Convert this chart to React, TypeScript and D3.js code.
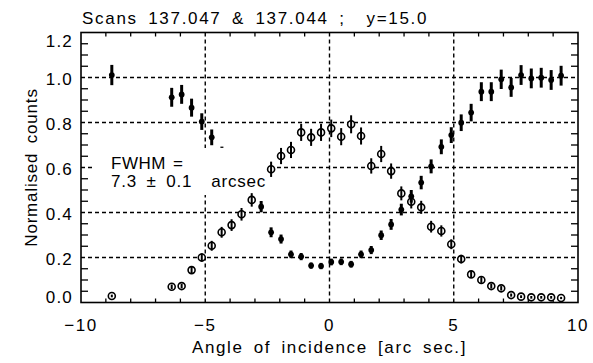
import React from "react";
import * as d3 from "d3";

const W = 593;
const H = 363;

// Filled series (transmission-like): x, value, error
const filledX = [-8.76, -6.35, -5.95, -5.55, -5.14, -4.74, -2.75, -2.35, -1.95, -1.55, -1.14, -0.74, -0.34, 0.07, 0.47, 0.87, 1.27, 1.68, 2.08, 2.48, 2.89, 3.29, 3.69, 4.09, 4.5, 4.9, 5.3, 5.7, 6.11, 6.51, 6.91, 7.31, 7.71, 8.12, 8.52, 8.92, 9.32];
const filledY = [1.011, 0.912, 0.925, 0.866, 0.804, 0.734, 0.426, 0.312, 0.282, 0.214, 0.204, 0.164, 0.162, 0.18, 0.181, 0.17, 0.214, 0.233, 0.299, 0.347, 0.413, 0.472, 0.533, 0.605, 0.692, 0.744, 0.799, 0.844, 0.937, 0.937, 0.992, 0.956, 1.011, 0.996, 0.999, 0.989, 1.008];
const filledErr = [0.045, 0.042, 0.042, 0.04, 0.037, 0.035, 0.025, 0.022, 0.02, 0.017, 0.016, 0.014, 0.014, 0.015, 0.015, 0.015, 0.017, 0.018, 0.021, 0.024, 0.026, 0.028, 0.03, 0.031, 0.033, 0.035, 0.037, 0.039, 0.042, 0.042, 0.043, 0.042, 0.044, 0.044, 0.044, 0.044, 0.044];

// Open-circle series (reflection-like)
const openX = [-8.76, -6.35, -5.95, -5.55, -5.14, -4.74, -4.34, -3.94, -3.54, -3.13, -2.35, -1.95, -1.55, -1.14, -0.74, -0.34, 0.07, 0.47, 0.87, 1.27, 1.68, 2.08, 2.48, 2.89, 3.29, 3.69, 4.09, 4.5, 4.9, 5.3, 5.7, 6.11, 6.51, 6.91, 7.31, 7.71, 8.12, 8.52, 8.92, 9.32];
const openY = [0.029, 0.07, 0.073, 0.144, 0.2, 0.252, 0.312, 0.344, 0.392, 0.456, 0.592, 0.651, 0.678, 0.756, 0.734, 0.756, 0.774, 0.737, 0.792, 0.74, 0.607, 0.66, 0.584, 0.485, 0.448, 0.423, 0.337, 0.318, 0.259, 0.193, 0.125, 0.1, 0.073, 0.063, 0.033, 0.026, 0.023, 0.023, 0.023, 0.02];
const openErr = [0.006, 0.01, 0.01, 0.016, 0.019, 0.022, 0.024, 0.026, 0.028, 0.03, 0.034, 0.036, 0.036, 0.038, 0.038, 0.038, 0.039, 0.038, 0.04, 0.038, 0.034, 0.036, 0.034, 0.031, 0.03, 0.029, 0.026, 0.025, 0.022, 0.019, 0.015, 0.013, 0.011, 0.01, 0.007, 0.006, 0.006, 0.006, 0.006, 0.005];

// Stray single point
const strayX = [-4.33];
const strayY = [0.69];

const xMajor = [-10, -5, 0, 5, 10];
const xTickLabels = ["\u221210", "\u22125", "0", "5", "10"];
const yMajor = [0, 0.2, 0.4, 0.6, 0.8, 1.0, 1.2];
const yTickLabels = ["0.0", "0.2", "0.4", "0.6", "0.8", "1.0", "1.2"];

const titleText = "Scans 137.047 & 137.044 ;  y=15.0";
const xTitle = "Angle of incidence [arc sec.]";
const yTitle = "Normalised counts";
const noteLine1 = "FWHM =";
const noteLine2 = "7.3 \u00b1 0.1  arcsec";

const FONT = "'Liberation Sans', Arial, Helvetica, sans-serif";

export default function App() {
  const left = 81, right = 578, top = 32.5, bottom = 302.5;
  const x = d3.scaleLinear().domain([-10, 10]).range([left, right]);
  const y = d3.scaleLinear().domain([0, 1.2]).range([bottom, top]);

  const xMinor = x.ticks(20).filter((t) => !xMajor.includes(t));
  const yMinor = d3.range(0, 1.2001, 0.05).map((v) => +v.toFixed(2)).filter((t) => !yMajor.some((m) => Math.abs(m - t) < 1e-6));

  const txt = { fontFamily: FONT, fontSize: 17, fill: "#000", letterSpacing: 0.8, wordSpacing: 4, whiteSpace: "pre" } as React.CSSProperties;

  return (
    <svg width={W} height={H} style={{ position: "absolute", left: 0, top: 0, background: "#fff" }}>
      <rect x={0} y={0} width={W} height={H} fill="#fff" />
      {/* grid (major ticks as dashed full-length lines) */}
      <g stroke="#000" strokeWidth={1.4} strokeDasharray="4,3">
        {xMajor.filter((v) => v > -10 && v < 10).map((v) => (
          <line key={"gx" + v} x1={x(v)} x2={x(v)} y1={top} y2={bottom} />
        ))}
        {yMajor.filter((v) => v > 0 && v < 1.2).map((v) => (
          <line key={"gy" + v} x1={left} x2={right} y1={y(v)} y2={y(v)} />
        ))}
      </g>
      {/* minor ticks */}
      <g stroke="#000" strokeWidth={1.3}>
        {xMinor.map((v) => (
          <g key={"mx" + v}>
            <line x1={x(v)} x2={x(v)} y1={bottom} y2={bottom - 4} />
            <line x1={x(v)} x2={x(v)} y1={top} y2={top + 4} />
          </g>
        ))}
        {yMinor.map((v) => (
          <g key={"my" + v}>
            <line x1={left} x2={left + 7} y1={y(v)} y2={y(v)} />
            <line x1={right} x2={right - 7} y1={y(v)} y2={y(v)} />
          </g>
        ))}
      </g>
      {/* frame */}
      <rect x={left} y={top} width={right - left} height={bottom - top} fill="none" stroke="#000" strokeWidth={1.6} />

      {/* annotation background (hides grid behind text) */}
      <rect x={95} y={148} width={177} height={47} fill="#fff" />

      {/* open-circle series */}
      <g>
        {openX.map((v, i) => (
          <g key={"o" + i}>
            <circle cx={x(v)} cy={y(openY[i])} r={3.5} fill="#fff" stroke="#000" strokeWidth={1.6} />
            <line x1={x(v)} x2={x(v)} y1={y(openY[i] - openErr[i])} y2={y(openY[i] + openErr[i])} stroke="#000" strokeWidth={2} />
          </g>
        ))}
      </g>
      {/* filled series */}
      <g>
        {filledX.map((v, i) => (
          <g key={"f" + i}>
            <line x1={x(v)} x2={x(v)} y1={y(filledY[i] - filledErr[i])} y2={y(filledY[i] + filledErr[i])} stroke="#000" strokeWidth={3} />
            <circle cx={x(v)} cy={y(filledY[i])} r={2.9} fill="#000" />
          </g>
        ))}
        {strayX.map((v, i) => (
          <line key={"s" + i} x1={x(v) - 1.5} x2={x(v) + 1.5} y1={y(strayY[i])} y2={y(strayY[i])} stroke="#000" strokeWidth={1.3} />
        ))}
      </g>

      {/* tick labels */}
      {xMajor.map((v, i) => (
        <text key={"xl" + v} x={x(v)} y={330.5} textAnchor="middle" style={{ ...txt, letterSpacing: 1.5 }}>
          {xTickLabels[i]}
        </text>
      ))}
      {yMajor.map((v, i) => (
        <text key={"yl" + v} x={73} y={Math.max(top + 14, Math.min(bottom, y(v) + 7))} textAnchor="end" style={{ ...txt, letterSpacing: 1.2 }}>
          {yTickLabels[i]}
        </text>
      ))}

      {/* titles */}
      <text x={82} y={24} style={{ ...txt, letterSpacing: 1.7, wordSpacing: 4 }} xmlSpace="preserve">{titleText}</text>
      <text x={(left + right) / 2} y={353} textAnchor="middle" style={{ ...txt, letterSpacing: 1.6 }}>{xTitle}</text>
      <text transform={`translate(36.5, ${(top + bottom) / 2}) rotate(-90)`} textAnchor="middle" style={txt}>{yTitle}</text>

      {/* annotation */}
      <text x={111} y={168.5} style={{ ...txt, letterSpacing: 0.5, wordSpacing: 2 }} xmlSpace="preserve">{noteLine1}</text>
      <text x={111} y={187} style={txt} xmlSpace="preserve">{noteLine2}</text>
    </svg>
  );
}
